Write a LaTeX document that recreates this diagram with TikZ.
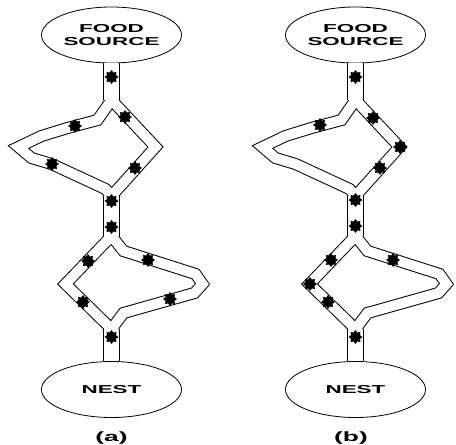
\documentclass[tikz,border=0pt]{standalone}
\usepackage{fontspec}
\usepackage{graphicx}
\newfontfamily\labelfont{Liberation Sans Bold}
\newcommand{\widetext}[1]{\scalebox{1.95}[1]{#1}}
\usetikzlibrary{shapes.geometric}
\tikzset{
place/.style={
ellipse,
draw,
line width=0.8pt,
fill=white,
minimum width=140pt,
minimum height=56pt,
inner sep=0pt,
align=center,
font=\labelfont\fontsize{11.5}{13.3}\selectfont
},
stem/.style={
line width=15pt+#1pt
},
branch/.style={
line width=10pt+#1pt,
line join=miter
},
ant/.style={
star,
star points=8,
star point ratio=1.45,
fill=black,
inner sep=0pt,
minimum size=14pt
},
caption/.style={
font=\labelfont\fontsize{13.5}{16}\selectfont
}
}

\begin{document}
\begin{tikzpicture}[x=1pt,y=-1pt]

\useasboundingbox (0,0) rectangle (456,445);

% two trails, (a) and (b)
\foreach \p/\cx in {a/111.5,b/355.5}{
\begin{scope}[shift={(\cx,0)}]

\node[place](food\p) at (0,35){\widetext{FOOD}\\\widetext{SOURCE}};

\node[place](nest\p) at (0,389.5){\widetext{NEST}};

\coordinate(top\p) at (0,100);
\coordinate(mid\p) at (0,196);
\coordinate(low\p) at (0,236);
\coordinate(bot\p) at (0,329);

% walls first, then the white inside
\foreach \c/\e in {black/2,white/0}{
\draw[stem=\e,color=\c]
(food\p.south)--(top\p)
(mid\p)--(low\p)
(bot\p)--(nest\p.north);
\draw[branch=\e,color=\c]
([yshift=8pt]top\p)--(top\p)--(-14,120)--(-44,128)--(-70,136)
--(-93,147)--(-80,158)--(-60,164)--(-6,189)--(mid\p)--([yshift=-8pt]mid\p)
([yshift=8pt]top\p)--(top\p)--(44,147)--(mid\p)--([yshift=-8pt]mid\p)
([yshift=8pt]low\p)--(low\p)--(-46,284)--(bot\p)--([yshift=-8pt]bot\p)
([yshift=8pt]low\p)--(low\p)--(12,251)--(84,274)--(91,284)
--(83,293)--(12,313)--(bot\p)--([yshift=-8pt]bot\p);
}

\end{scope}
}

% ants on trail (a)
\foreach[count=\i] \x/\y in {111.5/77,75/126,125/117,52/164,135/168,111.5/201,
111.5/227,88/261,83/302,148/260,170/299,111.5/337}
\node[ant](anta\i) at (\x,\y){};

% ants on trail (b)
\foreach[count=\i] \x/\y in {355.5/77,320/125,373/118,400/147,380/168,355.5/200,
355.5/226,331/260,310/284,328/302,393/260,355.5/337}
\node[ant](antb\i) at (\x,\y){};

\node[caption](capa) at (111.5,438){\widetext{(a)}};

\node[caption](capb) at (351,438){\widetext{(b)}};

\end{tikzpicture}
\end{document}
